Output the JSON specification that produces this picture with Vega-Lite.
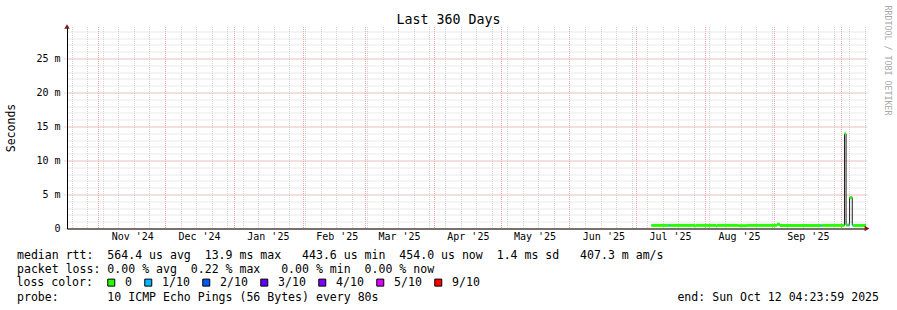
{
  "$schema": "https://vega.github.io/schema/vega-lite/v6.json",
  "width": 800,
  "height": 202,
  "autosize": {"type": "none"},
  "padding": {"left": 67, "top": 26.5, "right": 30, "bottom": 81.5},
  "background": "#ffffff",
  "config": {"view": {"stroke": null}, "font": "DejaVu Sans Mono"},
  "datasets": {
    "med": [
      {"t": "2025-07-07T22:00:00Z", "t2": "2025-07-15T22:00:00Z", "v": 0.46, "loss": "0"},
      {"t": "2025-07-15T22:00:00Z", "t2": "2025-07-16T09:00:00Z", "v": 0.46, "loss": "1/10"},
      {"t": "2025-07-16T09:00:00Z", "t2": "2025-07-27T12:00:00Z", "v": 0.46, "loss": "0"},
      {"t": "2025-07-27T12:00:00Z", "t2": "2025-07-28T00:00:00Z", "v": 0.38, "loss": "0"},
      {"t": "2025-07-28T00:00:00Z", "t2": "2025-08-06T00:00:00Z", "v": 0.46, "loss": "0"},
      {"t": "2025-08-06T00:00:00Z", "t2": "2025-08-06T12:00:00Z", "v": 0.38, "loss": "0"},
      {"t": "2025-08-06T12:00:00Z", "t2": "2025-08-16T00:00:00Z", "v": 0.46, "loss": "0"},
      {"t": "2025-08-16T00:00:00Z", "t2": "2025-08-20T00:00:00Z", "v": 0.42, "loss": "0"},
      {"t": "2025-08-20T00:00:00Z", "t2": "2025-09-02T10:00:00Z", "v": 0.46, "loss": "0"},
      {"t": "2025-09-02T10:00:00Z", "t2": "2025-09-03T16:00:00Z", "v": 0.62, "loss": "0"},
      {"t": "2025-09-03T16:00:00Z", "t2": "2025-09-22T00:00:00Z", "v": 0.45, "loss": "0"},
      {"t": "2025-09-22T00:00:00Z", "t2": "2025-09-22T11:00:00Z", "v": 0.45, "loss": "1/10"},
      {"t": "2025-09-22T11:00:00Z", "t2": "2025-10-02T19:00:00Z", "v": 0.46, "loss": "0"},
      {"t": "2025-10-02T19:00:00Z", "t2": "2025-10-03T12:00:00Z", "v": 13.9, "loss": "0"},
      {"t": "2025-10-03T12:00:00Z", "t2": "2025-10-04T06:00:00Z", "v": 0.5, "loss": "0"},
      {"t": "2025-10-04T06:00:00Z", "t2": "2025-10-04T17:00:00Z", "v": 0.5, "loss": "1/10"},
      {"t": "2025-10-04T17:00:00Z", "t2": "2025-10-05T02:00:00Z", "v": 0.5, "loss": "0"},
      {"t": "2025-10-05T02:00:00Z", "t2": "2025-10-06T07:00:00Z", "v": 4.55, "loss": "0"},
      {"t": "2025-10-06T07:00:00Z", "t2": "2025-10-06T18:00:00Z", "v": 0.5, "loss": "1/10"},
      {"t": "2025-10-06T18:00:00Z", "t2": "2025-10-12T11:00:00Z", "v": 0.45, "loss": "0"}
    ],
    "arrowTop": [{"t": "2024-10-17T22:00:00Z", "v": 29.7}],
    "arrowRight": [{"t": "2025-10-12T22:00:00Z", "v": 0}]
  },
  "layer": [
    {
      "data": {"name": "med"},
      "mark": {"type": "line", "interpolate": "step-after", "stroke": "#202020", "strokeWidth": 1},
      "encoding": {
        "x": {
          "field": "t", "type": "temporal",
          "scale": {"type": "utc", "domain": [{"year": 2024, "month": 10, "date": 17, "hours": 22, "utc": true}, {"year": 2025, "month": 10, "date": 12, "hours": 22, "utc": true}]},
          "axis": {
            "orient": "bottom", "grid": true, "gridColor": "#d2d2d2", "gridDash": [1, 1], "gridWidth": 1,
            "tickCount": {"interval": "week", "step": 1},
            "labels": false, "ticks": false, "domain": false,
            "title": [
              "median rtt:\u00a0\u00a0564.4 us avg\u00a0\u00a013.9 ms max\u00a0\u00a0\u00a0443.6 us min\u00a0\u00a0454.0 us now\u00a0\u00a01.4 ms sd\u00a0\u00a0\u00a0407.3 m am/s",
              "packet loss: 0.00 % avg\u00a0\u00a00.22 % max\u00a0\u00a0\u00a00.00 % min\u00a0\u00a00.00 % now"
            ],
            "titleFont": "DejaVu Sans Mono", "titleFontSize": 11.55, "titleFontWeight": "normal", "titleColor": "#000000",
            "titleX": -50.5, "titleY": 30, "titleAlign": "left", "titleAnchor": "start", "titleBaseline": "alphabetic", "titleLineHeight": 14
          }
        },
        "y": {
          "field": "v", "type": "quantitative",
          "scale": {"domain": [0, 29.7], "nice": false, "zero": false},
          "axis": {
            "orient": "right", "grid": true, "gridColor": "#d2d2d2", "gridDash": [1, 1], "gridWidth": 1,
            "values": [0, 1, 2, 3, 4, 5, 6, 7, 8, 9, 10, 11, 12, 13, 14, 15, 16, 17, 18, 19, 20, 21, 22, 23, 24, 25, 26, 27, 28, 29],
            "labels": false, "ticks": false, "domain": false,
            "title": "RRDTOOL / TOBI OETIKER",
            "titleFont": "DejaVu Sans Mono", "titleFontSize": 8.3, "titleFontWeight": "normal", "titleColor": "#a8a8a8",
            "titleAngle": 90, "titleX": 19, "titleY": -21.5, "titleAlign": "left", "titleBaseline": "middle"
          }
        }
      }
    },
    {
      "data": {"name": "med"},
      "mark": {"type": "rule", "strokeWidth": 3, "strokeCap": "butt"},
      "encoding": {
        "x": {
          "field": "t", "type": "temporal",
          "axis": {
            "orient": "bottom", "grid": true, "gridColor": "#f2a0a0", "gridDash": [1, 1], "gridWidth": 1,
            "values": [
              {"year": 2024, "month": 11, "date": 1, "utc": true},
              {"year": 2024, "month": 12, "date": 1, "utc": true},
              {"year": 2025, "month": 1, "date": 1, "utc": true},
              {"year": 2025, "month": 2, "date": 1, "utc": true},
              {"year": 2025, "month": 3, "date": 1, "utc": true},
              {"year": 2025, "month": 4, "date": 1, "utc": true},
              {"year": 2025, "month": 5, "date": 1, "utc": true},
              {"year": 2025, "month": 6, "date": 1, "utc": true},
              {"year": 2025, "month": 7, "date": 1, "utc": true},
              {"year": 2025, "month": 8, "date": 1, "utc": true},
              {"year": 2025, "month": 9, "date": 1, "utc": true},
              {"year": 2025, "month": 10, "date": 1, "utc": true}
            ],
            "ticks": false, "tickSize": 0, "domain": true, "domainColor": "#000000", "domainWidth": 1,
            "labelExpr": "datum.value >= 1759276800000 ? '' : utcFormat(datum.value, \"%b '%y\")",
            "labelOffset": 34, "labelPadding": 3, "labelFont": "DejaVu Sans Mono", "labelFontSize": 10, "labelColor": "#000000",
            "labelFlush": false, "labelOverlap": false, "labelBound": false,
            "title": null
          }
        },
        "x2": {"field": "t2"},
        "y": {
          "field": "v", "type": "quantitative",
          "axis": {
            "orient": "left", "grid": true, "gridColor": "#f2a0a0", "gridDash": [1, 1], "gridWidth": 1,
            "values": [0, 5, 10, 15, 20, 25],
            "ticks": true, "tickSize": 4, "tickColor": "#f2a0a0", "tickDash": [1, 1],
            "domain": true, "domainColor": "#000000", "domainWidth": 1,
            "labelExpr": "datum.value == 0 ? '0\u00a0\u00a0' : datum.value + '\u00a0m'",
            "labelPadding": 3, "labelFont": "DejaVu Sans Mono", "labelFontSize": 10, "labelColor": "#000000",
            "labelFlush": false, "labelOverlap": false,
            "title": "Seconds", "titleFont": "DejaVu Sans Mono", "titleFontSize": 11.5, "titleFontWeight": "normal", "titleColor": "#000000",
            "titleX": -56, "titleBaseline": "middle"
          }
        },
        "color": {
          "field": "loss", "type": "nominal",
          "scale": {"domain": ["0", "1/10"], "range": ["#26ff00", "#00b8ff"]},
          "legend": null
        }
      }
    },
    {
      "data": {"name": "med"},
      "mark": {"type": "square", "filled": true, "size": 0},
      "encoding": {
        "x": {"field": "t", "type": "temporal", "axis": null},
        "y": {"field": "v", "type": "quantitative", "axis": null},
        "fill": {
          "field": "loss", "type": "nominal",
          "scale": {"domain": ["0", "1/10", "2/10", "3/10", "4/10", "5/10", "9/10"], "range": ["#26ff00", "#00b8ff", "#0059ff", "#5e00ff", "#7e00ff", "#dd00ff", "#ff0000"]},
          "legend": {
            "orient": "none", "legendX": -50.5, "legendY": 250, "direction": "horizontal", "padding": 0, "offset": 0,
            "columns": 7, "gridAlign": "each",
            "title": "loss color:", "titleOrient": "left", "titleFont": "DejaVu Sans Mono", "titleFontSize": 11.55, "titleFontWeight": "normal", "titleColor": "#000000", "titlePadding": 12, "titleBaseline": "middle",
            "labelFont": "DejaVu Sans Mono", "labelFontSize": 11.55, "labelColor": "#000000", "labelOffset": 8, "columnPadding": 10,
            "symbolType": "square", "symbolSize": 49, "symbolStrokeWidth": 1, "symbolStrokeColor": "#000000", "symbolOpacity": 1
          }
        }
      }
    },
    {
      "data": {"name": "arrowTop"},
      "mark": {"type": "point", "shape": "triangle-up", "filled": true, "color": "#7a1a1a", "size": 30, "opacity": 1, "clip": false},
      "encoding": {
        "x": {
          "field": "t", "type": "temporal",
          "axis": {
            "orient": "top", "grid": false, "labels": false, "ticks": false, "domain": false,
            "title": "Last 360 Days", "titleFont": "DejaVu Sans Mono", "titleFontSize": 13.3, "titleFontWeight": "normal", "titleColor": "#000000",
            "titleX": 381, "titleY": -3, "titleAlign": "center", "titleBaseline": "alphabetic"
          }
        },
        "y": {"field": "v", "type": "quantitative", "axis": null}
      }
    },
    {
      "data": {"name": "arrowRight"},
      "mark": {"type": "point", "shape": "triangle-right", "filled": true, "color": "#7a1a1a", "size": 30, "opacity": 1, "clip": false},
      "encoding": {
        "x": {
          "field": "t", "type": "temporal",
          "axis": {
            "orient": "bottom", "grid": false, "labels": false, "ticks": false, "domain": false,
            "title": "probe:\u00a0\u00a0\u00a0\u00a0\u00a0\u00a0\u00a010 ICMP Echo Pings (56 Bytes) every 80s\u00a0\u00a0\u00a0\u00a0\u00a0\u00a0\u00a0\u00a0\u00a0\u00a0\u00a0\u00a0\u00a0\u00a0\u00a0\u00a0\u00a0\u00a0\u00a0\u00a0\u00a0\u00a0\u00a0\u00a0\u00a0\u00a0\u00a0\u00a0\u00a0\u00a0\u00a0\u00a0\u00a0\u00a0\u00a0\u00a0\u00a0\u00a0\u00a0\u00a0\u00a0\u00a0\u00a0end: Sun Oct 12 04:23:59 2025",
            "titleFont": "DejaVu Sans Mono", "titleFontSize": 11.55, "titleFontWeight": "normal", "titleColor": "#000000",
            "titleX": -50.5, "titleY": 72, "titleAlign": "left", "titleAnchor": "start", "titleBaseline": "alphabetic"
          }
        },
        "y": {"field": "v", "type": "quantitative", "axis": null}
      }
    }
  ],
  "resolve": {"axis": {"x": "independent", "y": "independent"}}
}
